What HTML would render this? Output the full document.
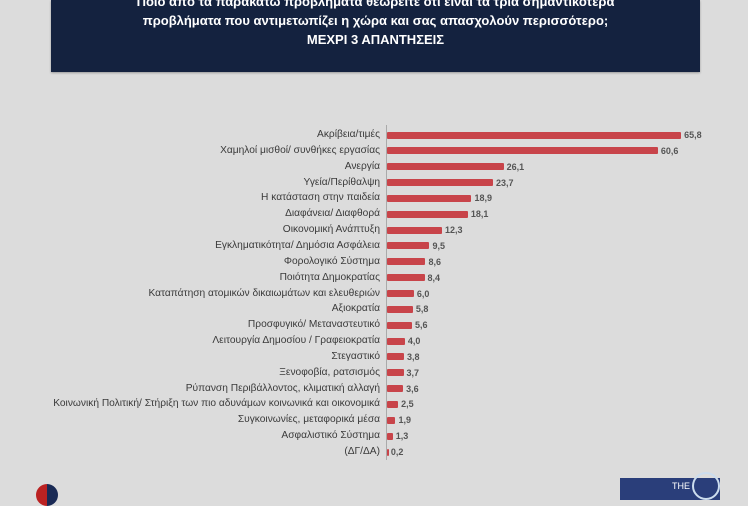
<!DOCTYPE html>
<html><head><meta charset="utf-8"><style>
body{margin:0;width:748px;height:498px;background:#dcdcdc;overflow:hidden;position:relative;font-family:"Liberation Sans","DejaVu Sans",sans-serif}
.hdr{position:absolute;left:51px;top:0;width:649px;height:72px;background:#14223f;color:#fff;text-align:center;font-size:13px;line-height:19px;font-weight:bold;box-shadow:0 1px 2px #999}
.hdr div{white-space:nowrap}
.lbl{position:absolute;right:368px;font-size:10.2px;color:#3a3a3a;white-space:nowrap;line-height:10px}
.bar{position:absolute;left:387px;height:7px;background:#c8444a;border-radius:1px}
.val{position:absolute;font-size:9px;font-weight:bold;color:#555;line-height:10px}
.axis{position:absolute;left:386px;top:125px;width:1px;height:335px;background:#aaa}
</style></head><body>
<div class="hdr"><div style="margin-top:-8px">Ποιο από τα παρακάτω προβλήματα θεωρείτε ότι είναι τα τρία σημαντικότερα</div><div>προβλήματα που αντιμετωπίζει η χώρα και σας απασχολούν περισσότερο;</div><div>ΜΕΧΡΙ 3 ΑΠΑΝΤΗΣΕΙΣ</div></div>
<div class="axis"></div>
<div id="c"></div>
<div style="position:absolute;left:36px;top:484px;width:22px;height:22px;border-radius:50%;background:linear-gradient(90deg,#b22 50%,#1a2a55 50%)"></div>
<div style="position:absolute;left:620px;top:478px;width:100px;height:22px;background:#2a3e7a;color:#fff;font-size:9px"><span style="position:absolute;left:52px;top:3px">THE</span><div style="position:absolute;left:72px;top:-6px;width:24px;height:24px;border:2px solid #cde;border-radius:50%"></div></div>
<script>
var d=[["Ακρίβεια/τιμές",65.8],["Χαμηλοί μισθοί/ συνθήκες εργασίας",60.6],["Ανεργία",26.1],["Υγεία/Περίθαλψη",23.7],["Η κατάσταση στην παιδεία",18.9],["Διαφάνεια/ Διαφθορά",18.1],["Οικονομική Ανάπτυξη",12.3],["Εγκληματικότητα/ Δημόσια Ασφάλεια",9.5],["Φορολογικό Σύστημα",8.6],["Ποιότητα Δημοκρατίας",8.4],["Καταπάτηση ατομικών δικαιωμάτων και ελευθεριών",6.0],["Αξιοκρατία",5.8],["Προσφυγικό/ Μεταναστευτικό",5.6],["Λειτουργία Δημοσίου / Γραφειοκρατία",4.0],["Στεγαστικό",3.8],["Ξενοφοβία, ρατσισμός",3.7],["Ρύπανση Περιβάλλοντος, κλιματική αλλαγή",3.6],["Κοινωνική Πολιτική/ Στήριξη των πιο αδυνάμων κοινωνικά και οικονομικά",2.5],["Συγκοινωνίες, μεταφορικά μέσα",1.9],["Ασφαλιστικό Σύστημα",1.3],["(ΔΓ/ΔΑ)",0.2]];
var h="";
d.forEach(function(r,i){var y=135+i*15.85;var w=r[1]*4.47;
h+='<div class="lbl" style="top:'+(y-5)+'px">'+r[0]+'</div><div class="bar" style="top:'+(y-3.5)+'px;width:'+Math.max(w,1.5)+'px"></div><div class="val" style="top:'+(y-5)+'px;left:'+(390+w)+'px">'+r[1].toFixed(1).replace(".",",")+'</div>';});
document.getElementById("c").innerHTML=h;
</script>
</body></html>
